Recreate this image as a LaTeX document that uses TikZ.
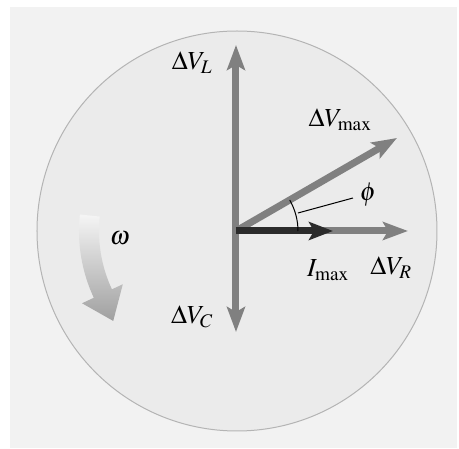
\documentclass[tikz,border=0pt]{standalone}
\usepackage{mathptmx}
\usetikzlibrary{arrows.meta}
\definecolor{bgsq}{HTML}{F2F2F2}
\definecolor{disc}{HTML}{EBEBEB}
\definecolor{rim}{HTML}{B4B4B4}
\definecolor{vgray}{HTML}{808080}
\definecolor{vdark}{HTML}{2B2B2B}
\tikzset{
  vec/.style={line width=7pt, draw=vgray, -{Stealth[length=25pt,width=18pt,inset=5pt]}},
  dvec/.style={line width=7pt, draw=vgray, {Stealth[length=25pt,width=18pt,inset=5pt]}-{Stealth[length=25pt,width=18pt,inset=5pt]}},
  ivec/.style={line width=7pt, draw=vdark, -{Stealth[length=24pt,width=18pt,inset=5pt]}},
  lab/.style={inner sep=0pt, font=\fontsize{26}{30}\selectfont}
}
\begin{document}
\begin{tikzpicture}[x=1pt,y=1pt]
\useasboundingbox (-236,-218) rectangle (223,231);
\fill[bgsq] (-226,224) rectangle (221,-217);
\draw[fill=disc, draw=rim, line width=1pt] (1,0) circle[radius=200];
% omega arrow
\shade[top color=gray!8, bottom color=gray!75]
  ([shift={(1,0)}]174:158) arc[start angle=174,end angle=205,radius=158]
  -- ([shift={(1,0)}]205:171) -- ([shift={(1,0)}]216:153) -- ([shift={(1,0)}]205:126)
  -- ([shift={(1,0)}]205:138) arc[start angle=205,end angle=174,radius=138] -- cycle;
\coordinate (O) at (0,0);
\coordinate (L) at (0,186);
\coordinate (C) at (0,-101);
\coordinate (R) at (172,0);
\coordinate (I) at (97,0);
\coordinate (M) at (161,93);
\coordinate (p1) at (62,18);
\coordinate (p2) at (117,33);
\draw[dvec] (C) -- (L);
\draw[vec] (O) -- (R);
\draw[vec] (O) -- (M);
\draw[ivec] (O) -- (I);
\draw[line width=1pt] (62,0) arc[start angle=0,end angle=30,radius=62];
\draw[line width=1pt] (p1) -- (p2);
\node[lab] (nL) at (-44,168) {$\Delta V_{L}$};
\node[lab] (nM) at (104,111) {$\Delta V_{\mathrm{max}}$};
\node[lab] (nI) at (92,-39) {$I_{\mathrm{max}}$};
\node[lab] (nR) at (155,-37) {$\Delta V_{R}$};
\node[lab] (nC) at (-44,-86) {$\Delta V_{C}$};
\node[lab] (nw) at (-116,-7) {$\omega$};
\node[lab] (nphi) at (132,36) {$\phi$};
\end{tikzpicture}
\end{document}
